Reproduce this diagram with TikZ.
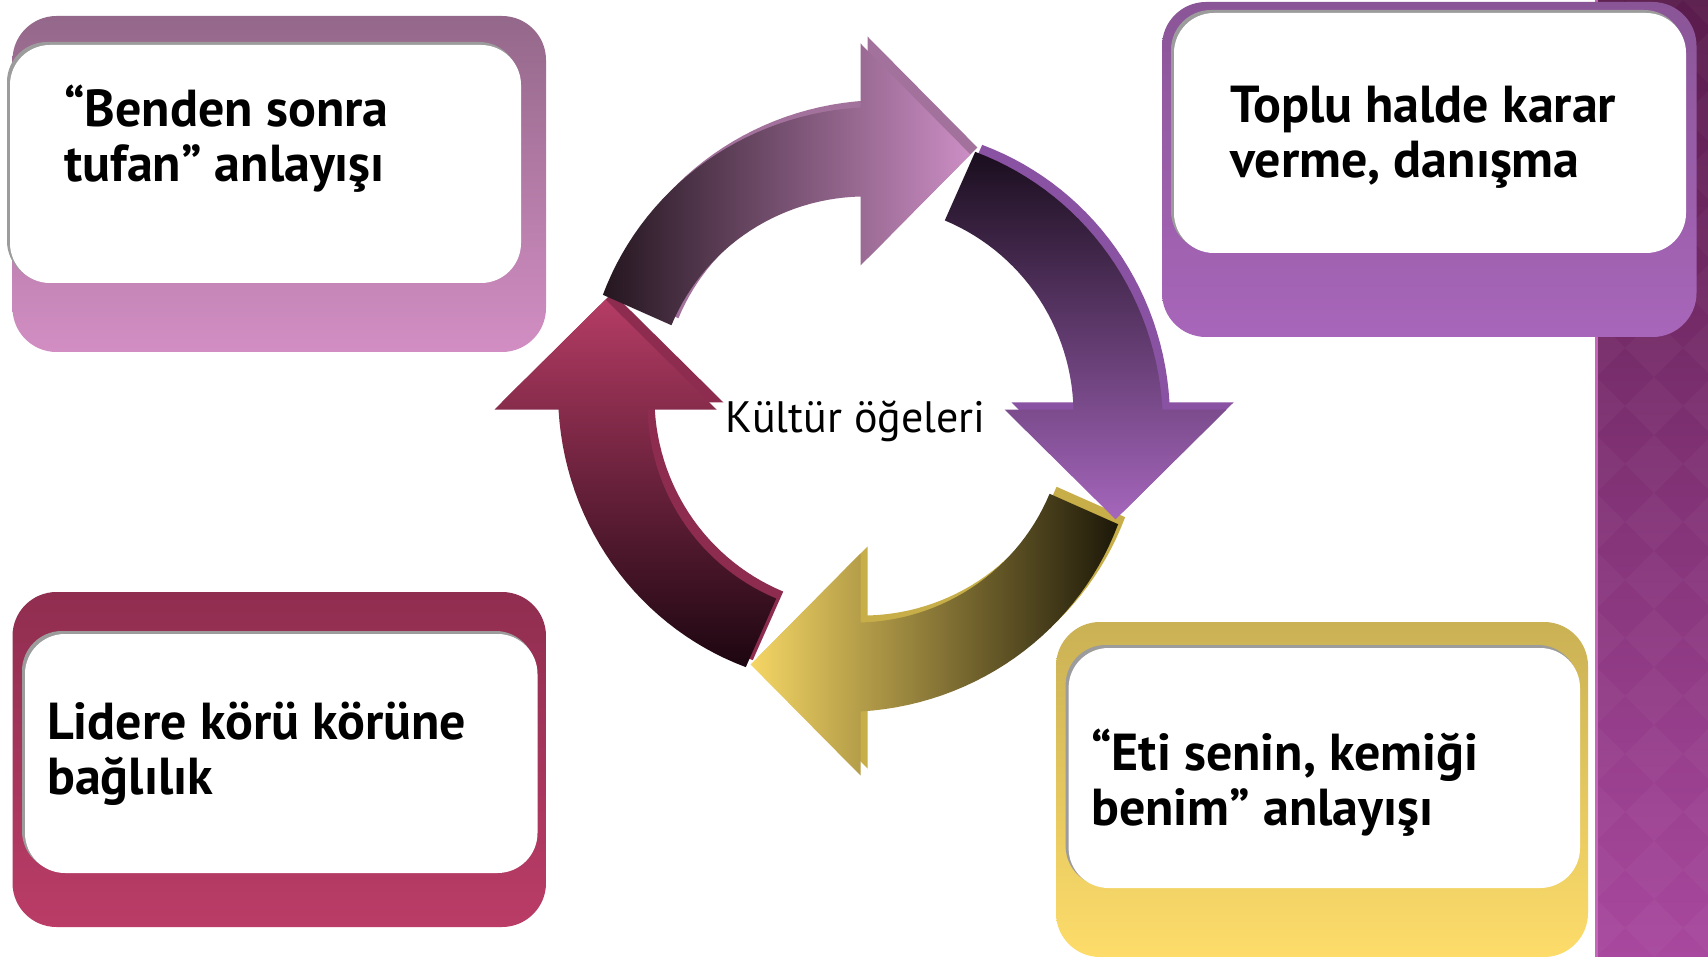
\documentclass[tikz,border=0pt]{standalone}
\usepackage{fontspec}
\setmainfont{PT Sans}
\definecolor{stripeA}{HTML}{5A1C4C}
\definecolor{stripeB}{HTML}{843076}
\definecolor{stripeC}{HTML}{A8489E}
\definecolor{stripeL}{HTML}{C566B8}
\definecolor{bAa}{HTML}{94688A}
\definecolor{bAb}{HTML}{D28EC3}
\definecolor{bBa}{HTML}{8A5597}
\definecolor{bBb}{HTML}{A866BA}
\definecolor{bCa}{HTML}{902E50}
\definecolor{bCb}{HTML}{BA3C67}
\definecolor{bDa}{HTML}{CAB154}
\definecolor{bDb}{HTML}{FDDC6A}
\definecolor{topA}{HTML}{24161F}
\definecolor{topB}{HTML}{7D5773}
\definecolor{topC}{HTML}{CC8EC5}
\definecolor{topS}{HTML}{A3729C}
\definecolor{rightA}{HTML}{1A0E1E}
\definecolor{rightB}{HTML}{6A3B80}
\definecolor{rightC}{HTML}{A566BC}
\definecolor{rightS}{HTML}{8A52A2}
\definecolor{botA}{HTML}{1C1808}
\definecolor{botB}{HTML}{A08C3A}
\definecolor{botC}{HTML}{F5D665}
\definecolor{botS}{HTML}{C8AE48}
\definecolor{leftA}{HTML}{1C0610}
\definecolor{leftB}{HTML}{7A2444}
\definecolor{leftC}{HTML}{B53C65}
\definecolor{leftS}{HTML}{8E2C50}
\definecolor{shadowgray}{HTML}{9C9C9C}
% curved arrow whose head sits at visual angle #1, tail 66 degrees counterclockwise
\newcommand\ringarrow[1]{({-(#1)}:302) -- ({-(#1)}:366) -- ({-(#1)+23.3}:277.7) -- ({-(#1)}:144) -- ({-(#1)}:213)
  -- plot[domain=0:1, samples=30] ({-(#1+66*\x)}:{213-6*\x})
  -- plot[domain=0:1, samples=30] ({-(#1+66*(1-\x))}:{302-20*(1-\x)}) -- cycle}
\begin{document}
\begin{tikzpicture}[x=1pt,y=-1pt,
  backbox/.style={rounded corners=44pt},
  whitebox/.style={fill=white, rounded corners=40pt},
  shadowbox/.style={fill=shadowgray, rounded corners=40pt},
  boxtext/.style={font=\bfseries\fontsize{52}{55}\selectfont, align=left, anchor=base west, inner sep=0pt, text=black},
  centertext/.style={font=\fontsize{44}{48}\selectfont, anchor=base, inner sep=0pt, text=black}]
\useasboundingbox (0,0) rectangle (1708,957);
\fill[white] (0,0) rectangle (1708,957);
% right stripe
\shade[top color=stripeA, middle color=stripeB, bottom color=stripeC] (1596,0) rectangle (1708,957);
\begin{scope}
  \clip (1596,0) rectangle (1708,957);
  \foreach \i in {0,1,2} \foreach \j in {0,...,17}
    {\fill[white, opacity=0.03] ({1596+\i*58},{\j*58-29}) -- ++(29,29) -- ++(-29,29) -- ++(-29,-29) -- cycle;}
\end{scope}
\fill[stripeL] (1595,0) rectangle (1597.5,957);
% box 1 (top left)
\shade[backbox, top color=bAa, bottom color=bAb] (12.5,16) rectangle (546,352);
\fill[shadowbox] (7,42) rectangle (519,281);
\fill[whitebox] (10,45) rectangle (521,283);
\node[boxtext] (t1) at (64,182) {“Benden sonra\\tufan” anlayışı};
% box 2 (top right)
\shade[backbox, top color=bBa, bottom color=bBb] (1162,2) rectangle (1696.5,337);
\fill[shadowbox] (1171,10) rectangle (1684,251);
\fill[whitebox] (1174,13) rectangle (1686,253);
\node[boxtext] (t2) at (1230,178) {Toplu halde karar\\verme, danışma};
% box 3 (bottom left)
\shade[backbox, top color=bCa, bottom color=bCb] (12.5,592) rectangle (546,927);
\fill[shadowbox] (22,631) rectangle (535.5,871);
\fill[whitebox] (25,634) rectangle (537.5,873);
\node[boxtext] (t3) at (47,794) {Lidere körü körüne\\bağlılık};
% box 4 (bottom right)
\shade[backbox, top color=bDa, bottom color=bDb] (1056,622) rectangle (1588,957);
\fill[shadowbox] (1065.6,645) rectangle (1578,886);
\fill[whitebox] (1068.6,648) rectangle (1580,888);
\node[boxtext] (t4) at (1091,825) {“Eti senin, kemiği\\benim” anlayışı};
% ring of arrows
\begin{scope}[shift={(860.5,409.5)}]
  % left arrow (points up)
  \fill[leftS, shift={(7,-7)}] \ringarrow{180};
  \shade[top color=leftC, middle color=leftB, bottom color=leftA] \ringarrow{180};
  % bottom arrow (points left)
  \fill[botS, shift={(7,-7)}] \ringarrow{-90};
  \shade[left color=botC, middle color=botB, right color=botA] \ringarrow{-90};
  % right arrow (points down)
  \fill[rightS, shift={(7,-7)}] \ringarrow{0};
  \shade[top color=rightA, middle color=rightB, bottom color=rightC] \ringarrow{0};
  % top arrow (points right)
  \fill[topS, shift={(7,-7)}] \ringarrow{90};
  \shade[left color=topA, middle color=topB, right color=topC] \ringarrow{90};
\end{scope}
\node[centertext] (c) at (855.5,432) {Kültür öğeleri};
\end{tikzpicture}
\end{document}
